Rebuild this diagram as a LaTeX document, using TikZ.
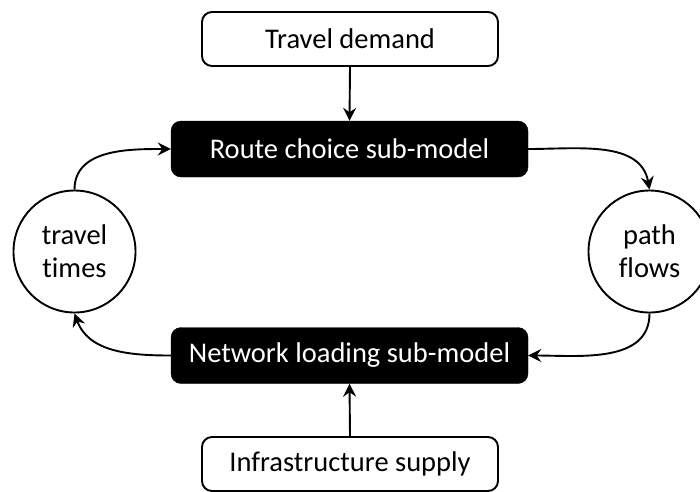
\documentclass[tikz,border=0pt]{standalone}
\usepackage{fontspec}
\setmainfont{Carlito}[Ligatures=NoCommon]
\usetikzlibrary{arrows.meta}
\begin{document}
\begin{tikzpicture}[x=1pt,y=-1pt,
  every node/.style={font=\fontsize{28.5}{34}\selectfont},
  inbox/.style={draw, line width=1.9pt, rounded corners=10pt, minimum width=296pt, minimum height=54pt, inner sep=0pt},
  blackbox/.style={draw, fill=black, text=white, rounded corners=10pt, minimum width=357pt, minimum height=56pt, inner sep=0pt},
  loopnode/.style={draw, circle, line width=1.9pt, minimum size=122pt, inner sep=0pt, align=center, font=\fontsize{28.5}{33}\selectfont},
  conn/.style={line width=1.9pt, -{Stealth[length=13pt,width=13pt,inset=4.5pt]}}]
\useasboundingbox (0,0) rectangle (700,491);
\node[inbox] (demand) at (350,39) {Travel demand};
\node[blackbox] (route) at (349.5,149) {Route choice sub-model};
\node[blackbox] (net) at (349.5,355.5) {Network loading sub-model};
\node[inbox] (supply) at (350,464) {Infrastructure supply};
\node[loopnode] (tt) at (74.5,251.5) {travel\\times};
\node[loopnode] (pf) at (649.5,251.5) {path\\flows};
\draw[conn] (demand.south) -- (route.north);
\draw[conn] (supply.north) -- (net.south);
\draw[conn] (tt.north) to[out=90,in=180] (route.west);
\draw[conn] (route.east) to[out=0,in=100] (pf.north);
\draw[conn] (pf.south) to[out=-90,in=0] (net.east);
\draw[conn] (net.west) to[out=180,in=-70] (tt.south);
\end{tikzpicture}
\end{document}
